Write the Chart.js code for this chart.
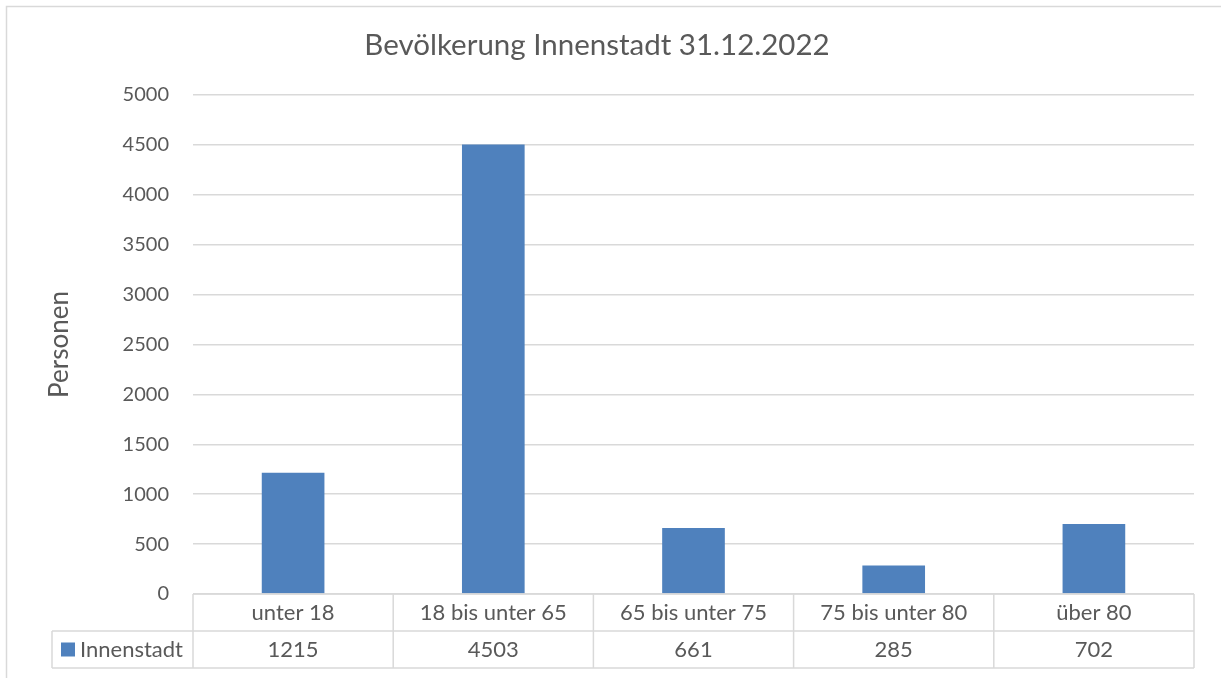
<!DOCTYPE html>
<html><head><meta charset="utf-8">
<script src="https://cdn.jsdelivr.net/npm/chart.js@4/dist/chart.umd.min.js"></script>
<style>html,body{margin:0;padding:0;background:#fff;}canvas{display:block;}</style>
</head><body>
<canvas id="c" width="1221" height="678"></canvas>
<script>
const chartTitle = 'Bevölkerung Innenstadt 31.12.2022';
const categories = ['unter 18', '18 bis unter 65', '65 bis unter 75', '75 bis unter 80', 'über 80'];
const seriesName = 'Innenstadt';
const values = [1215, 4503, 661, 285, 702];
const yTicks = [0, 500, 1000, 1500, 2000, 2500, 3000, 3500, 4000, 4500, 5000];
const yTitle = 'Personen';

const FONT = 'Lato, sans-serif';
const TXT = '#595959';
const LINE = '#d9d9d9';
const BAR = '#4f81bd';

const tablePlugin = {
  id: 'dataTable',
  beforeDraw(chart) {
    const ctx = chart.ctx;
    ctx.save();
    ctx.strokeStyle = LINE; ctx.lineWidth = 1.5;
    ctx.beginPath();
    ctx.moveTo(6.5, 678); ctx.lineTo(6.5, 6.5); ctx.lineTo(1221, 6.5);
    ctx.stroke();
    ctx.restore();
  },
  afterDraw(chart) {
    const ctx = chart.ctx, area = chart.chartArea, x = chart.scales.x;
    const n = categories.length;
    const cw = (area.right - area.left) / n;
    const top = area.bottom, mid = top + 37, bot = top + 74;
    const legLeft = 52;
    ctx.save();
    ctx.strokeStyle = LINE; ctx.lineWidth = 1.5;
    ctx.beginPath();
    ctx.moveTo(area.left, top); ctx.lineTo(area.right, top);
    ctx.moveTo(legLeft, mid); ctx.lineTo(area.right, mid);
    ctx.moveTo(legLeft, bot); ctx.lineTo(area.right, bot);
    ctx.moveTo(legLeft, mid); ctx.lineTo(legLeft, bot);
    for (let i = 0; i <= n; i++) {
      const xx = area.left + i * cw;
      ctx.moveTo(xx, top); ctx.lineTo(xx, bot);
    }
    ctx.stroke();
    ctx.fillStyle = TXT;
    ctx.font = '22px ' + FONT;
    ctx.textAlign = 'center'; ctx.textBaseline = 'middle';
    categories.forEach((c, i) => {
      const cx = x.getPixelForValue(i);
      ctx.fillText(c, cx, (top + mid) / 2);
      ctx.fillText(String(values[i]), cx, (mid + bot) / 2);
    });
    ctx.fillStyle = BAR;
    ctx.fillRect(61, (mid + bot) / 2 - 7, 14, 14);
    ctx.fillStyle = TXT;
    ctx.textAlign = 'left';
    ctx.fillText(seriesName, 80, (mid + bot) / 2);
    ctx.restore();
  }
};

new Chart(document.getElementById('c'), {
  type: 'bar',
  data: {
    labels: categories,
    datasets: [{ label: seriesName, data: values, backgroundColor: BAR, barPercentage: 0.313, categoryPercentage: 1 }]
  },
  options: {
    responsive: false,
    animation: false,
    layout: { padding: { left: 0, right: 27, top: 0, bottom: 0 } },
    plugins: {
      legend: { display: false },
      tooltip: { enabled: false },
      title: { display: true, text: chartTitle, color: TXT, font: { family: FONT, size: 29.5, weight: 'normal', lineHeight: 1.2 }, padding: { top: 28, bottom: 31.6 } }
    },
    scales: {
      x: {
        ticks: { display: false },
        grid: { display: false },
        border: { display: false },
        afterFit(s) { s.height = 84; }
      },
      y: {
        min: 0, max: 5000,
        afterBuildTicks(s) { s.ticks = yTicks.map(v => ({ value: v })); },
        ticks: { color: TXT, font: { family: FONT, size: 20 }, padding: 24, callback: v => String(v) },
        grid: { color: LINE, lineWidth: 1.5, drawTicks: false },
        border: { display: false },
        title: { display: true, text: yTitle, color: TXT, font: { family: FONT, size: 26 }, padding: { top: 44, bottom: 0 } },
        afterFit(s) { s.width = 193; }
      }
    }
  },
  plugins: [tablePlugin]
});
</script>
</body></html>
